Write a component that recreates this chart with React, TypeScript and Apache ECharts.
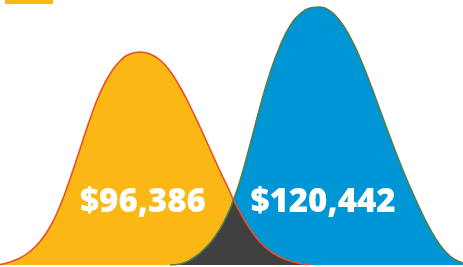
import React, { useEffect, useRef } from "react";
import * as echarts from "echarts";

const xs = [0, 10, 20, 30, 40, 50, 60, 70, 80, 90, 100, 110, 120, 130, 140, 150, 160, 170, 180, 190, 200, 210, 220, 230, 233, 240, 250, 260, 270, 280, 290, 300, 310, 320, 330, 340, 350, 360, 370, 380, 390, 400, 410, 420, 430, 440, 450, 460, 463];
const lowerIncome: (number | null)[] = [0.5, 3, 7, 13.5, 23.5, 38, 59, 86, 116, 146, 172, 191, 204, 211, 213, 211, 205, 194, 178, 159, 138, 116, 94, 73, 66, 53, 36, 23, 14, 8, 4, 1.5, 0.5, null, null, null, null, null, null, null, null, null, null, null, null, null, null, null, null];
const higherIncome: (number | null)[] = [null, null, null, null, null, null, null, null, null, null, null, null, null, null, null, null, null, 0, 1, 5, 12, 22, 36, 56, 64, 84, 120, 158, 192, 219, 239, 251, 257, 258, 254, 244, 228, 207, 182, 155, 128, 102, 78, 56, 36, 20, 9, 3, 2];
const labels = ["$96,386", "$120,442"];

export default function App() {
  const ref = useRef<HTMLDivElement>(null);
  useEffect(() => {
    if (!ref.current) return;
    const chart = echarts.init(ref.current, null, { renderer: "svg" });
    const toData = (arr: (number | null)[]) =>
      xs.map((x, i) => (arr[i] == null ? null : [x, arr[i] as number])).filter((d) => d !== null);
    const overlap = xs
      .map((x, i) =>
        lowerIncome[i] == null || higherIncome[i] == null
          ? null
          : [x, Math.min(lowerIncome[i] as number, higherIncome[i] as number)]
      )
      .filter((d) => d !== null);
    const smooth = 0.5;
    const base = { type: "line", smooth, symbol: "none" };
    chart.setOption({
      animation: false,
      grid: { left: 0, right: 0, top: 0, bottom: 2 },
      xAxis: { type: "value", min: 0, max: 463, show: false },
      yAxis: { type: "value", min: 0, max: 265, show: false },
      series: [
        { ...base, data: toData(lowerIncome), lineStyle: { width: 0 }, areaStyle: { color: "#FBB714", opacity: 1 }, z: 1 },
        { ...base, data: toData(higherIncome), lineStyle: { width: 0 }, areaStyle: { color: "#0096D6", opacity: 1 }, z: 2 },
        { ...base, data: overlap, smooth: 0.3, lineStyle: { width: 0 }, areaStyle: { color: "#404040", opacity: 1 }, z: 3 },
        { ...base, data: toData(lowerIncome), lineStyle: { width: 1.6, color: "#E8502A" }, z: 4 },
        { ...base, data: toData(higherIncome), lineStyle: { width: 1.6, color: "#4F7F4C" }, z: 5 },
      ],
      graphic: [
        { type: "rect", left: 5, top: 0, shape: { width: 48, height: 4 }, style: { fill: "#FDB913" }, z: 10 },
        {
          type: "text", x: 143, y: 199, z: 10,
          style: { text: labels[0], fill: "#FFFFFF", font: "800 33px 'Open Sans'", textAlign: "center", textVerticalAlign: "middle" },
        },
        {
          type: "text", x: 323, y: 199, z: 10,
          style: { text: labels[1], fill: "#FFFFFF", font: "800 33px 'Open Sans'", textAlign: "center", textVerticalAlign: "middle" },
        },
      ],
    });
    return () => chart.dispose();
  }, []);
  return <div ref={ref} style={{ position: "fixed", left: 0, top: 0, width: 463, height: 267 }} />;
}
